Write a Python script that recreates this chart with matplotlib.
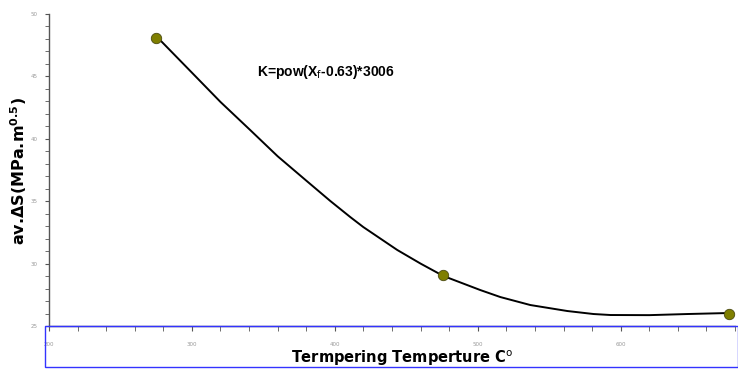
import numpy as np
import matplotlib
matplotlib.use("Agg")
import matplotlib.pyplot as plt
from matplotlib.patches import Rectangle
from matplotlib.ticker import MultipleLocator
from matplotlib import font_manager

# Measured points
temp = [275, 476, 676]
delta_s = [48.1, 29.1, 26.0]

# Fitted curve
curve_t = [275.6, 300.0, 320.0, 340.8, 360.0, 380.0, 396.8, 410.8, 419.9, 443.7,
           460.0, 475.9, 501.8, 515.8, 536.8, 562.7, 581.0, 592.9, 620.0, 646.8, 675.5]
curve_s = [48.16, 45.30, 42.95, 40.70, 38.60, 36.65, 35.02, 33.73, 32.93, 31.09,
           30.00, 29.01, 27.88, 27.32, 26.68, 26.20, 25.96, 25.88, 25.87, 25.96, 26.04]

W, H = 738, 369
fig = plt.figure(figsize=(W / 100, H / 100), dpi=100)
ax = fig.add_axes([49 / W, (H - 326) / H, (735 - 49) / W, (326 - 14) / H])

ax.plot(curve_t, curve_s, color="black", linewidth=1.4, zorder=2)
ax.plot(temp, delta_s, linestyle="none", marker="o", ms=7.5,
        mfc="#7f7f00", mec="#4a4a10", mew=0.6, zorder=3, clip_on=False)

ax.set_xlim(200, 680)
ax.set_ylim(25, 50)

for s in ["top", "right"]:
    ax.spines[s].set_visible(False)
for s in ["left", "bottom"]:
    ax.spines[s].set_color("#555555")
    ax.spines[s].set_linewidth(1.0)

ax.xaxis.set_major_locator(MultipleLocator(100))
ax.xaxis.set_minor_locator(MultipleLocator(20))
ax.yaxis.set_major_locator(MultipleLocator(5))
ax.yaxis.set_minor_locator(MultipleLocator(1))

ax.tick_params(axis="both", which="both", colors="#555555", labelcolor="#999999",
               labelsize=4, direction="out")
ax.tick_params(axis="x", which="major", length=3.5, pad=8)
ax.tick_params(axis="x", which="minor", length=3.5)
ax.tick_params(axis="y", which="major", length=3, pad=5)
ax.tick_params(axis="y", which="minor", length=3)

installed = {f.name for f in font_manager.fontManager.ttflist}
narrow = [f for f in ["Liberation Sans Narrow", "DejaVu Sans Condensed"] if f in installed]
xl_size = 13 if narrow else 10.5
fig.text(402 / W, (H - 358) / H, "Termpering Temperture C$^{\\mathrm{o}}$", fontsize=xl_size,
         fontweight="bold", family=narrow + ["DejaVu Sans"],
         ha="center", va="center")
fig.text(19 / W, (H - 171) / H, "av.ΔS(MPa.m$^{\\mathbf{0.5}}$)", fontsize=11.5,
         fontweight="bold", rotation=90, ha="center", va="center")

fig.text(257 / W, (H - 72) / H, "K=pow(X$_{\\mathrm{f}}$-0.63)*3006",
         fontsize=10, fontweight="bold", family=["Liberation Sans", "DejaVu Sans"],
         va="center", ha="left")

# blue frame under the x axis
fig.patches.append(Rectangle((45 / W, 2 / H), (W - 45) / W, 41 / H,
                             transform=fig.transFigure, fill=False,
                             edgecolor="#3333ff", linewidth=1.0, zorder=0))

fig.savefig("out.png", dpi=100)
